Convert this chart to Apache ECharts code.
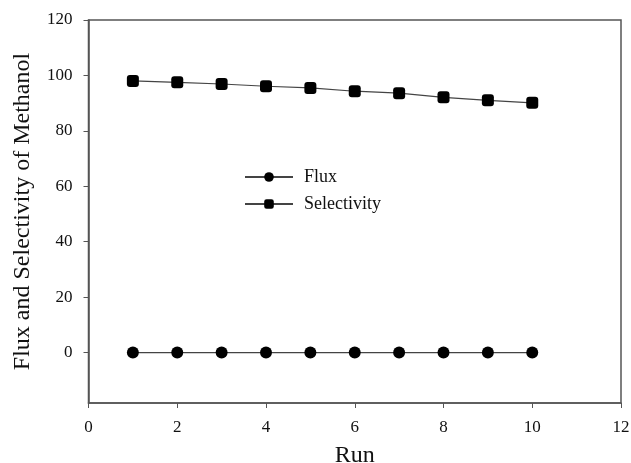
<!DOCTYPE html>
<html>
<head>
<meta charset="utf-8">
<script src="https://cdn.jsdelivr.net/npm/echarts@6/dist/echarts.min.js"></script>
<style>
html, body { margin: 0; padding: 0; background: #fff; }
#container { width: 631px; height: 463px; }
</style>
</head>
<body>
<div id="container"></div>
<script>
var runs = [1, 2, 3, 4, 5, 6, 7, 8, 9, 10];
var flux = [0, 0, 0, 0, 0, 0, 0, 0, 0, 0];
var selectivity = [98.0, 97.5, 96.9, 96.1, 95.5, 94.3, 93.6, 92.1, 91.0, 90.1];
var yTicks = [0, 20, 40, 60, 80, 100, 120];

var dom = document.getElementById("container");
var myChart = echarts.init(dom);

function pairs(xs, ys) {
	return xs.map(function (x, i) { return [x, ys[i]]; });
}

var font = '"Liberation Serif", "Times New Roman", serif';
var axisColor = '#555';

var option = {
	animation: false,
	textStyle: { fontFamily: font },
	grid: { left: 88.5, top: 20, right: 10, bottom: 60, outerBoundsMode: 'none', containLabel: false }, // 绘图区
	legend: {
		orient: 'vertical',
		left: 239,
		top: 163,
		itemWidth: 48,
		itemHeight: 12,
		itemGap: 9,
		textStyle: { fontFamily: font, fontSize: 18, color: '#111', padding: [0, 0, 0, 6] },
		data: ['Flux', 'Selectivity']
	},
	xAxis: {
		type: 'value',
		min: 0,
		max: 12,
		interval: 2,
		name: 'Run',
		nameLocation: 'middle',
		nameGap: 41,
		nameTextStyle: { fontFamily: font, fontSize: 24, color: '#111' },
		axisLine: { show: true, onZero: false, lineStyle: { color: axisColor, width: 1.5 } },
		axisTick: { show: true, length: 5, lineStyle: { color: axisColor } },
		axisLabel: { fontFamily: font, fontSize: 17, color: '#111', margin: 16 },
		splitLine: { show: false }
	},
	yAxis: {
		type: 'value',
		min: -18.2,
		max: 120,
		name: 'Flux and Selectivity of Methanol',
		nameLocation: 'middle',
		nameGap: 54,
		nameTextStyle: { fontFamily: font, fontSize: 24, color: '#111' },
		axisLine: { show: true, lineStyle: { color: axisColor, width: 1.5 } },
		axisTick: { show: true, length: 5, customValues: yTicks, lineStyle: { color: axisColor } },
		axisLabel: { fontFamily: font, fontSize: 17, color: '#111', margin: 16, customValues: yTicks },
		splitLine: { show: false }
	},
	series: [{
		name: 'Flux',
		type: 'line',
		symbol: 'circle',
		symbolSize: 12,
		itemStyle: { color: '#000' },
		lineStyle: { color: '#444', width: 1.2 },
		data: pairs(runs, flux)
	}, {
		name: 'Selectivity',
		type: 'line',
		symbol: 'roundRect',
		symbolSize: 12,
		itemStyle: { color: '#000' },
		lineStyle: { color: '#444', width: 1.2 },
		data: pairs(runs, selectivity)
	}],
	// 外框
	graphic: [{
		type: 'rect',
		shape: { x: 88.5, y: 20, width: 532.5, height: 383 },
		style: { fill: null, stroke: axisColor, lineWidth: 1.5 },
		silent: true
	}]
};

myChart.setOption(option);
</script>
</body>
</html>
